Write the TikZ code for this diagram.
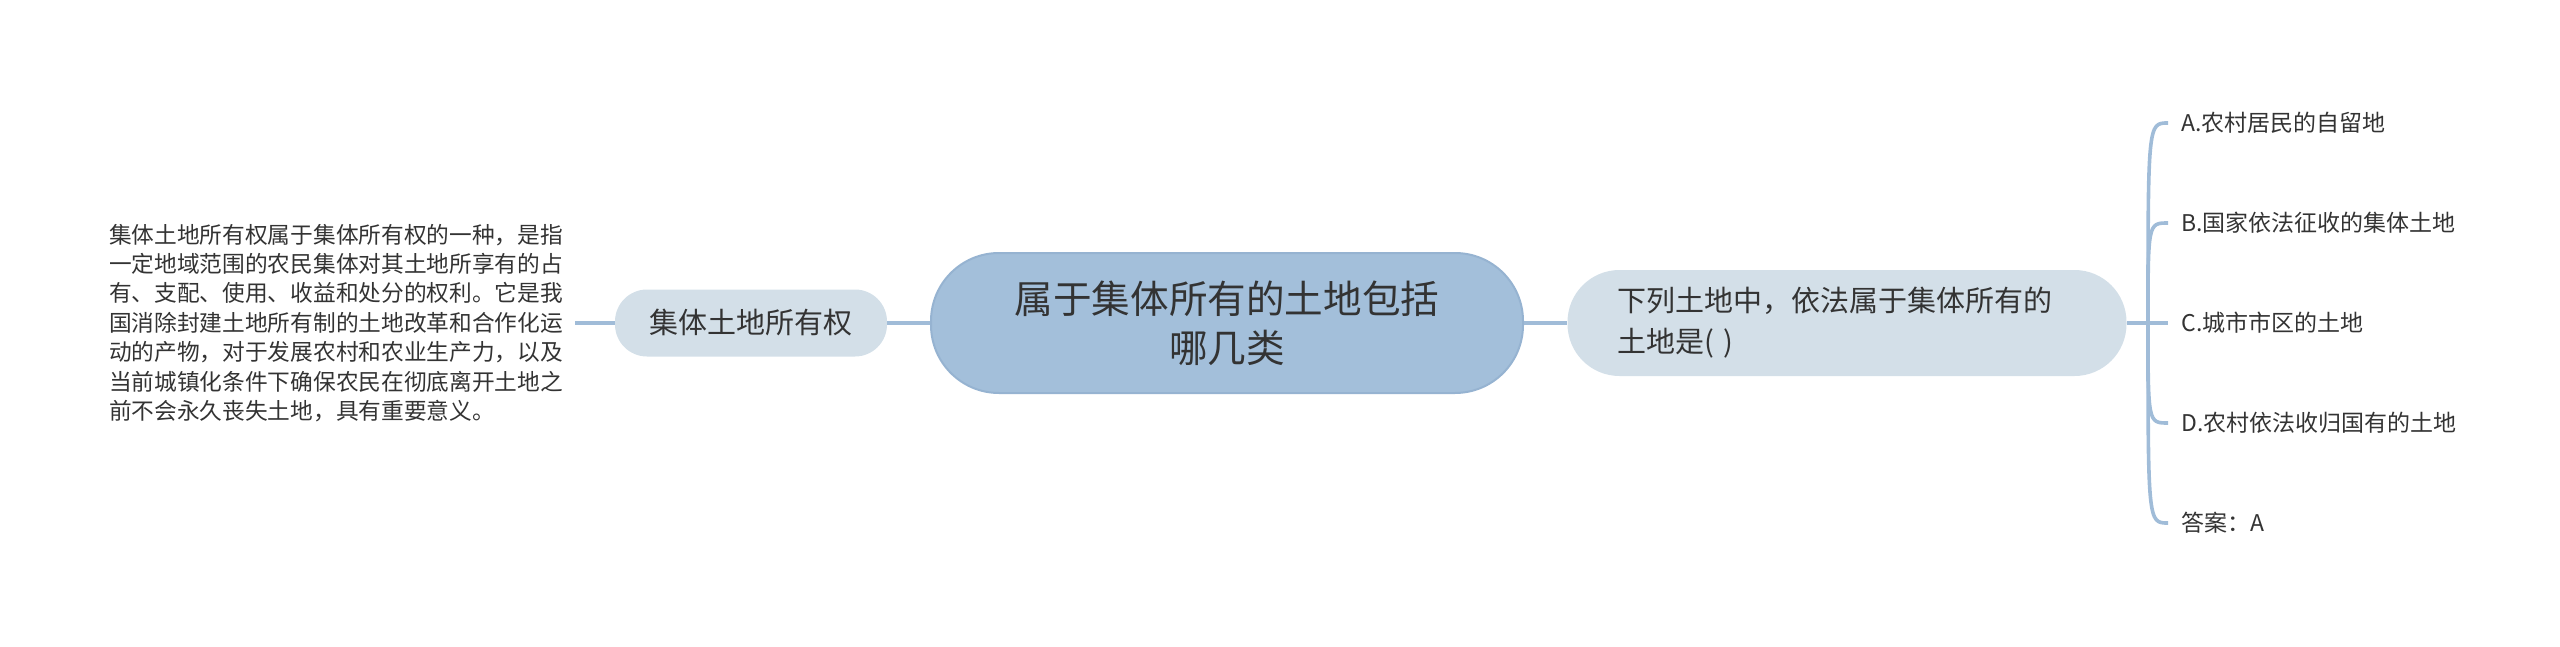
\documentclass[tikz,border=0pt]{standalone}
\usepackage{fontspec}
\setmainfont{Noto Sans CJK SC}

\definecolor{rootblue}{HTML}{A3BFDA}
\definecolor{rootedge}{HTML}{96B3D1}
\definecolor{topicgrey}{HTML}{D3DFE8}
\definecolor{linkblue}{HTML}{A0BCD8}
\definecolor{inkgrey}{HTML}{333333}

\tikzset{
  root/.style={fill=rootblue, draw=rootedge, line width=1pt, rounded corners=34pt,
    minimum width=296pt, minimum height=70pt, align=center, text=inkgrey,
    font=\fontsize{19.3}{24.5}\selectfont},
  topic/.style={fill=topicgrey, align=left, text=inkgrey,
    font=\fontsize{14.5}{20.5}\selectfont},
  leaf/.style={anchor=west, inner sep=6.5pt, text=inkgrey,
    font=\fontsize{11.5}{14}\selectfont},
  note/.style={align=left, inner sep=6pt, text=inkgrey,
    font=\fontsize{11.35}{14.7}\selectfont},
  link/.style={draw=linkblue, line width=1.8pt}
}

\begin{document}
\begin{tikzpicture}[x=0.5pt,y=-0.5pt]

\useasboundingbox (0,0) rectangle (2560,647);

% main topic and the two branches
\node[root] (main) at (1227,323) {属于集体所有的土地包括\\哪几类};
\node[topic, rounded corners=16pt, minimum width=136pt, minimum height=33.5pt] (own) at (751,323) {集体土地所有权};
\node[topic, rounded corners=26pt, minimum width=279.5pt, minimum height=53pt, text width=230pt] (ask) at (1847,323) {下列土地中，依法属于集体所有的\\土地是(\,\,)};

\node[note] (desc) at (336,323) {集体土地所有权属于集体所有权的一种，是指\\
一定地域范围的农民集体对其土地所享有的占\\
有、支配、使用、收益和处分的权利。它是我\\
国消除封建土地所有制的土地改革和合作化运\\
动的产物，对于发展农村和农业生产力，以及\\
当前城镇化条件下确保农民在彻底离开土地之\\
前不会永久丧失土地，具有重要意义。};

\draw[link] (main.west) -- (own.east);
\draw[link] (own.west) -- (desc.east);
\draw[link] (main.east) -- (ask.west);

% answer choices
\coordinate (hub) at (2148,323);
\draw[link] (ask.east) -- (hub);

\foreach \name/\y/\txt in {la/123/A.农村居民的自留地, lb/223/B.国家依法征收的集体土地,
    lc/323/C.城市市区的土地, ld/423/D.农村依法收归国有的土地, le/523/答案：A}
    \node[leaf] (\name) at (2168,\y) {\txt};

\foreach \name in {la,lb,lc,ld,le}
    \draw[link] (hub) .. controls (hub |- \name.west) .. (\name.west);

\end{tikzpicture}
\end{document}
